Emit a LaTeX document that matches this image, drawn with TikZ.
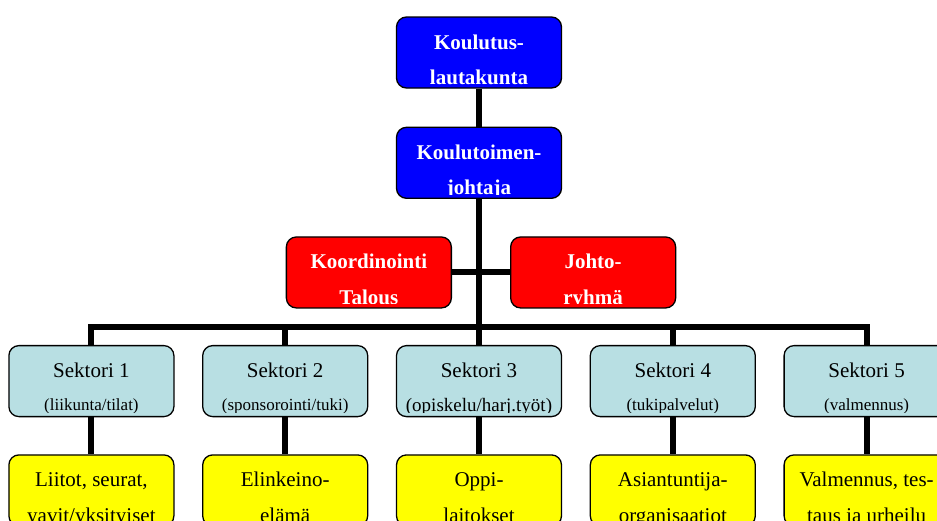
\documentclass[tikz,border=0pt]{standalone}
\usepackage{fontspec}
\setmainfont{Liberation Serif}
\definecolor{ohjblau}{HTML}{0000FF}
\definecolor{ohjpuna}{HTML}{FF0000}
\definecolor{sektori}{HTML}{B8DFE3}
\definecolor{kentta}{HTML}{FFFF00}
\usetikzlibrary{positioning, calc, backgrounds}
\newcommand{\alaotsikko}[1]{\raisebox{2.5pt}{\fontsize{17pt}{17pt}\selectfont#1}}

\begin{document}
\begin{tikzpicture}[
    x=1pt, y=1pt,
    node distance=37pt,
    box/.style={rectangle, rounded corners=10pt, draw=black, line width=1.3pt,
                minimum width=165pt, minimum height=71pt, inner sep=0pt},
    lines/.style n args={3}{path picture={
        \clip ([yshift=4pt]path picture bounding box.south west) rectangle (path picture bounding box.north east);
        \node[anchor=base, inner sep=0pt, #1] at ([yshift=-32pt]path picture bounding box.north) {#2};
        \node[anchor=base, inner sep=0pt, #1] at ([yshift=-67.5pt]path picture bounding box.north) {#3};}},
    hd/.style={font=\fontsize{21pt}{21pt}\selectfont\bfseries, text=white},
    tx/.style={font=\fontsize{21pt}{21pt}\selectfont, text=black},
    conn/.style={line width=6pt, black}
  ]
  \useasboundingbox (0,0) rectangle (937,-520);

  % johto
  \node[box, fill=ohjblau, lines={hd}{Koulutus-}{lautakunta}] (klk) at (479,-52.5) {};
  \node[box, fill=ohjblau, lines={hd}{Koulutoimen-}{johtaja}, below=38pt of klk] (kj) {};
  \coordinate[below=73.5pt of kj] (mid);
  \node[box, fill=ohjpuna, lines={hd}{Koordinointi}{Talous}, left=27pt of mid] (koord) {};
  \node[box, fill=ohjpuna, lines={hd}{Johto-}{ryhmä}, right=31pt of mid] (jr) {};

  % sektorit
  \node[box, fill=sektori, lines={tx}{Sektori 3}{\raisebox{1.5pt}{\fontsize{19pt}{19pt}\selectfont(opiskelu/harj.työt)}},
        below=72.5pt of mid] (s3) {};
  \node[box, fill=sektori, lines={tx}{Sektori 2}{\alaotsikko{(sponsorointi/tuki)}},
        left=27.5pt of s3] (s2) {};
  \node[box, fill=sektori, lines={tx}{Sektori 1}{\alaotsikko{(liikunta/tilat)}},
        left=27.5pt of s2] (s1) {};
  \node[box, fill=sektori, lines={tx}{Sektori 4}{\alaotsikko{(tukipalvelut)}},
        right=27.5pt of s3] (s4) {};
  \node[box, fill=sektori, lines={tx}{Sektori 5}{\alaotsikko{(valmennus)}},
        right=27.5pt of s4] (s5) {};

  % kentät
  \node[box, fill=kentta, lines={tx}{Liitot, seurat,}{yavit/yksityiset}, below=of s1] (y1) {};
  \node[box, fill=kentta, lines={tx}{Elinkeino-}{elämä}, below=of s2] (y2) {};
  \node[box, fill=kentta, lines={tx}{Oppi-}{laitokset}, below=of s3] (y3) {};
  \node[box, fill=kentta, lines={tx}{Asiantuntija-}{organisaatiot}, below=of s4] (y4) {};
  \node[box, fill=kentta, lines={tx}{Valmennus, tes-}{taus ja urheilu}, below=of s5] (y5) {};

  \coordinate[above=18pt of s3] (bus);

  \begin{scope}[on background layer]
    \draw[conn] (klk.south) -- (kj.north);
    \draw[conn] (kj.south) -- (s3.north);
    \draw[conn] (koord.east) -- (jr.west);
    \draw[conn] (s1.north) |- (bus) -| (s5.north);
    \draw[conn] (s2.north) -- (s2.north |- bus);
    \draw[conn] (s4.north) -- (s4.north |- bus);
    \draw[conn] (s1) -- (y1);
    \draw[conn] (s2) -- (y2);
    \draw[conn] (s3) -- (y3);
    \draw[conn] (s4) -- (y4);
    \draw[conn] (s5) -- (y5);
  \end{scope}
\end{tikzpicture}
\end{document}
